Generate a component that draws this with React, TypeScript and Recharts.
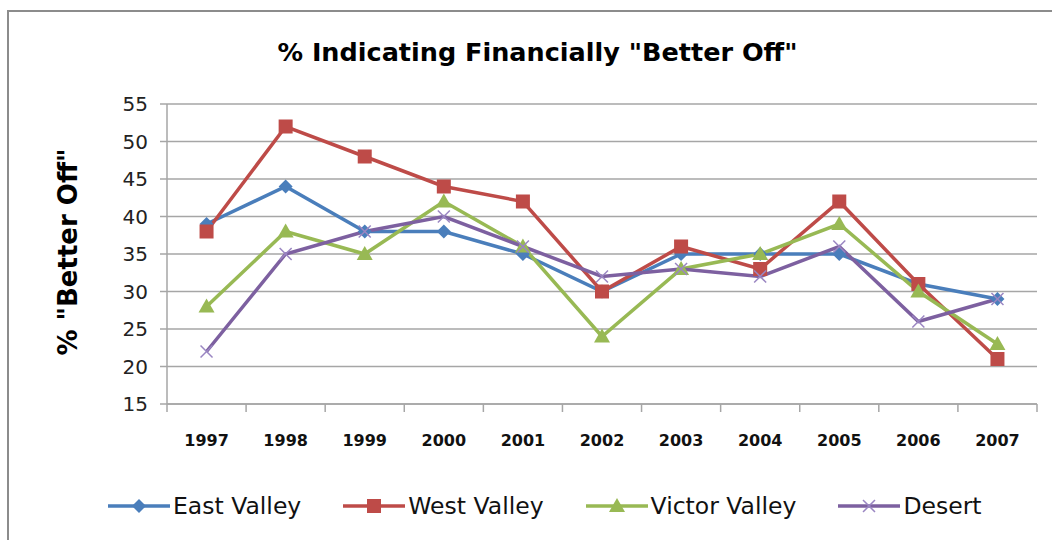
import { LineChart, Line, XAxis, YAxis, CartesianGrid } from "recharts";

const years = ["1997", "1998", "1999", "2000", "2001", "2002", "2003", "2004", "2005", "2006", "2007"];
const eastValley = [39, 44, 38, 38, 35, 30, 35, 35, 35, 31, 29];
const westValley = [38, 52, 48, 44, 42, 30, 36, 33, 42, 31, 21];
const victorValley = [28, 38, 35, 42, 36, 24, 33, 35, 39, 30, 23];
const desert = [22, 35, 38, 40, 36, 32, 33, 32, 36, 26, 29];
const yTicks = [15, 20, 25, 30, 35, 40, 45, 50, 55];

type Shape = "diamond" | "square" | "triangle" | "cross";

const series: { key: string; name: string; color: string; shape: Shape; values: number[] }[] = [
  { key: "east", name: "East Valley", color: "#4A7EBB", shape: "diamond", values: eastValley },
  { key: "west", name: "West Valley", color: "#BE4B48", shape: "square", values: westValley },
  { key: "victor", name: "Victor Valley", color: "#98B954", shape: "triangle", values: victorValley },
  { key: "desert", name: "Desert", color: "#7D60A0", shape: "cross", values: desert },
];

const data = years.map((year, i) => {
  const row: Record<string, string | number> = { year };
  series.forEach((s) => (row[s.key] = s.values[i]));
  return row;
});

const FONT = "'DejaVu Sans', sans-serif";
const GRID = "#A6A6A6";
const W = 1052;
const H = 540;
const LEFT = 167;
const RIGHT = 15;
const HALF = (W - LEFT - RIGHT) / years.length / 2;

function Marker({ shape, cx, cy, color }: { shape: Shape; cx: number; cy: number; color: string }) {
  if (shape === "diamond")
    return <polygon points={`${cx},${cy - 7} ${cx + 7},${cy} ${cx},${cy + 7} ${cx - 7},${cy}`} fill={color} />;
  if (shape === "square") return <rect x={cx - 7} y={cy - 7} width={14} height={14} fill={color} />;
  if (shape === "triangle")
    return <polygon points={`${cx},${cy - 8} ${cx + 8},${cy + 6} ${cx - 8},${cy + 6}`} fill={color} />;
  return (
    <g stroke="#9A86C2" strokeWidth={1.5}>
      <line x1={cx - 6} y1={cy - 6} x2={cx + 6} y2={cy + 6} />
      <line x1={cx - 6} y1={cy + 6} x2={cx + 6} y2={cy - 6} />
    </g>
  );
}

function YearTick(props: any) {
  const { x, y, payload, index } = props;
  const top = y - 8;
  return (
    <g>
      <line x1={x - HALF} x2={x - HALF} y1={top} y2={top + 8} stroke={GRID} strokeWidth={1.5} />
      {index === years.length - 1 && (
        <line x1={x + HALF} x2={x + HALF} y1={top} y2={top + 8} stroke={GRID} strokeWidth={1.5} />
      )}
      <text x={x} y={y + 34} textAnchor="middle" fontFamily={FONT} fontWeight="bold" fontSize={16} fill="#111">
        {payload.value}
      </text>
    </g>
  );
}

export default function App() {
  return (
    <div style={{ position: "absolute", left: 0, top: 0, width: W, height: H, background: "#fff", fontFamily: FONT }}>
      <div
        style={{
          position: "absolute",
          left: 7,
          top: 10,
          width: W - 7,
          height: H - 10,
          borderLeft: "2px solid #8C8C8C",
          borderTop: "2px solid #8C8C8C",
        }}
      />
      <div
        style={{
          position: "absolute",
          left: 0,
          top: 37,
          width: 1075,
          textAlign: "center",
          fontWeight: "bold",
          fontSize: 25.5,
          color: "#000",
        }}
      >
        % Indicating Financially "Better Off"
      </div>
      <div
        style={{
          position: "absolute",
          left: 68,
          top: 252,
          transform: "translate(-50%, -50%) rotate(-90deg)",
          whiteSpace: "nowrap",
          fontWeight: "bold",
          fontSize: 26,
          color: "#000",
        }}
      >
        % "Better Off"
      </div>
      <div style={{ position: "absolute", left: 0, top: 0 }}>
        <LineChart width={W} height={H} data={data} margin={{ top: 104, right: RIGHT, bottom: 96, left: 0 }}>
          <CartesianGrid vertical={false} stroke={GRID} strokeWidth={1.5} />
          <XAxis
            dataKey="year"
            scale="point"
            padding={{ left: HALF, right: HALF }}
            height={40}
            axisLine={{ stroke: GRID, strokeWidth: 1.5 }}
            tickLine={false}
            tick={<YearTick />}
            interval={0}
          />
          <YAxis
            width={LEFT}
            domain={[15, 55]}
            ticks={yTicks}
            interval={0}
            axisLine={{ stroke: GRID, strokeWidth: 1.5 }}
            tickLine={{ stroke: GRID, strokeWidth: 1.5 }}
            tickSize={7}
            tickMargin={12}
            tick={{ fill: "#222", fontSize: 20, fontFamily: FONT }}
          />
          {series.map((s) => (
            <Line
              key={s.key}
              dataKey={s.key}
              name={s.name}
              stroke={s.color}
              strokeWidth={3.5}
              isAnimationActive={false}
              dot={(p: any) => <Marker key={`${s.key}-${p.index}`} shape={s.shape} cx={p.cx} cy={p.cy} color={s.color} />}
            />
          ))}
        </LineChart>
      </div>
      <div
        style={{
          position: "absolute",
          left: 108,
          top: 492,
          display: "flex",
          alignItems: "center",
          gap: 42,
          fontSize: 23.5,
          color: "#111",
        }}
      >
        {series.map((s) => (
          <div key={s.key} style={{ display: "flex", alignItems: "center" }}>
            <svg width={62} height={28}>
              <line x1={0} x2={62} y1={14} y2={14} stroke={s.color} strokeWidth={3.5} />
              <Marker shape={s.shape} cx={31} cy={14} color={s.color} />
            </svg>
            <span style={{ marginLeft: 3 }}>{s.name}</span>
          </div>
        ))}
      </div>
    </div>
  );
}
